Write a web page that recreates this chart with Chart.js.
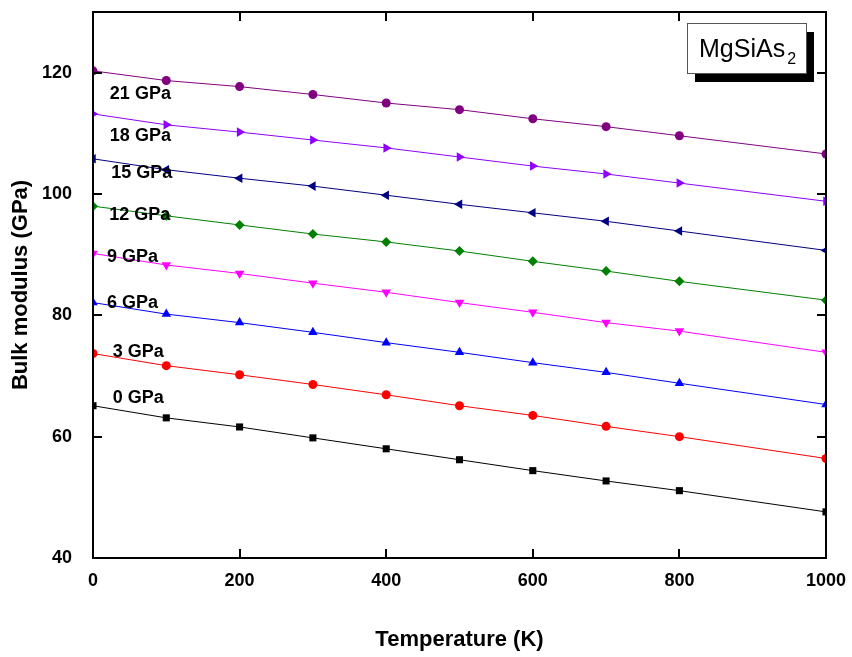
<!DOCTYPE html>
<html>
<head>
<meta charset="utf-8">
<script src="https://cdn.jsdelivr.net/npm/chart.js@4"></script>
<style>
  html, body { margin: 0; padding: 0; background: #fff; }
  #wrap { width: 852px; height: 657px; }
</style>
</head>
<body>
<div id="wrap"><canvas id="bulk"></canvas></div>
<script>
// temperature points (K) - no point at 900 in the original figure
const temps = [0, 100, 200, 300, 400, 500, 600, 700, 800, 1000];
const pressures = ['0 GPa', '3 GPa', '6 GPa', '9 GPa', '12 GPa', '15 GPa', '18 GPa', '21 GPa'];

// bulk modulus (GPa) per pressure
const b0  = [65.1, 63.1, 61.6, 59.8, 58.0, 56.2, 54.4, 52.7, 51.1, 47.6];
const b3  = [73.7, 71.7, 70.2, 68.6, 66.9, 65.1, 63.5, 61.7, 60.0, 56.4];
const b6  = [82.1, 80.2, 78.8, 77.2, 75.5, 73.9, 72.2, 70.6, 68.8, 65.3];
const b9  = [90.2, 88.3, 86.9, 85.3, 83.8, 82.1, 80.5, 78.8, 77.4, 73.9];
const b12 = [98.0, 96.4, 94.9, 93.4, 92.1, 90.6, 88.9, 87.3, 85.6, 82.5];
const b15 = [105.8, 104.0, 102.6, 101.3, 99.8, 98.3, 96.9, 95.5, 93.9, 90.7];
const b18 = [113.2, 111.4, 110.2, 108.9, 107.6, 106.1, 104.6, 103.3, 101.8, 98.8];
const b21 = [120.3, 118.7, 117.7, 116.4, 115.0, 113.9, 112.4, 111.1, 109.6, 106.6];

const xTicks = [0, 200, 400, 600, 800, 1000];
const yTicks = [40, 60, 80, 100, 120];

const FONT = 'Arial, "Liberation Sans", sans-serif';

// series look: color, point style, rotation, radius
const styles = [
  ['#000000', 'rect', 0, 5],
  ['#ff0000', 'circle', 0, 4.5],
  ['#0000ff', 'triangle', 0, 5.5],
  ['#ff00ff', 'triangle', 180, 5.5],
  ['#008000', 'rectRot', 0, 5],
  ['#000080', 'triangle', -90, 5.5],
  ['#8f00ff', 'triangle', 90, 5.5],
  ['#800080', 'circle', 0, 4.5]
];
const allSeries = [b0, b3, b6, b9, b12, b15, b18, b21];

// where the "x GPa" captions sit (data coords: K, GPa)
const captionAt = [
  [27, 66.3], [27, 73.9], [19, 82.1], [19, 89.6],
  [22, 96.5], [25, 103.5], [23, 109.6], [23, 116.5]
];

const datasets = allSeries.map((vals, i) => ({
  label: pressures[i],
  data: vals.map((v, j) => ({ x: temps[j], y: v })),
  borderColor: styles[i][0],
  backgroundColor: styles[i][0],
  borderWidth: 1,
  pointStyle: styles[i][1],
  rotation: styles[i][2],
  pointRadius: styles[i][3],
  pointBorderWidth: 0,
  tension: 0
}));

// kill the label overhang padding so the plot area sits where layout.padding says
const noOverhang = s => { s.paddingLeft = s.paddingRight = s.paddingTop = s.paddingBottom = 0; };

// frame with inward ticks on all four sides, captions and the MgSiAs2 box
const framePlugin = {
  id: 'frame',
  afterDatasetsDraw(chart) {
    const { ctx, chartArea: a, scales: { x, y } } = chart;
    ctx.save();

    // captions
    ctx.fillStyle = '#000';
    ctx.font = 'bold 18px ' + FONT;
    ctx.textAlign = 'left';
    ctx.textBaseline = 'middle';
    pressures.forEach((p, i) => {
      ctx.fillText(p, x.getPixelForValue(captionAt[i][0]), y.getPixelForValue(captionAt[i][1]));
    });

    // ticks
    ctx.strokeStyle = '#000';
    ctx.lineWidth = 2;
    const tl = 9;
    ctx.beginPath();
    xTicks.forEach(t => {
      const px = Math.round(x.getPixelForValue(t));
      ctx.moveTo(px, a.bottom); ctx.lineTo(px, a.bottom - tl);
      ctx.moveTo(px, a.top); ctx.lineTo(px, a.top + tl);
    });
    yTicks.forEach(t => {
      const py = Math.round(y.getPixelForValue(t));
      ctx.moveTo(a.left, py); ctx.lineTo(a.left + tl, py);
      ctx.moveTo(a.right, py); ctx.lineTo(a.right - tl, py);
    });
    ctx.stroke();

    // frame
    ctx.strokeRect(a.left, a.top, a.right - a.left, a.bottom - a.top);

    // label box with drop shadow
    const bw = 119, bh = 50;
    const bx = a.right - 139, by = a.top + 11;
    ctx.fillStyle = '#000';
    ctx.fillRect(bx + 8, by + 9, bw, bh);
    ctx.fillStyle = '#fff';
    ctx.fillRect(bx, by, bw, bh);
    ctx.strokeStyle = '#555';
    ctx.lineWidth = 1;
    ctx.strokeRect(bx + 0.5, by + 0.5, bw, bh);
    ctx.fillStyle = '#000';
    ctx.font = '25px ' + FONT;
    ctx.textAlign = 'left';
    ctx.textBaseline = 'alphabetic';
    ctx.fillText('MgSiAs', bx + 12, by + 34);
    const w = ctx.measureText('MgSiAs').width;
    ctx.font = '16px ' + FONT;
    ctx.fillText('2', bx + 14 + w, by + 41);

    ctx.restore();
  }
};

new Chart(document.getElementById('bulk'), {
  type: 'line',
  data: { datasets },
  options: {
    responsive: true,
    maintainAspectRatio: false,
    animation: false,
    layout: { padding: { top: 12, right: 26, left: 0, bottom: 0 } },
    plugins: {
      legend: { display: false },
      tooltip: { enabled: false }
    },
    scales: {
      x: {
        type: 'linear',
        min: 0, max: 1000,
        afterFit: s => { s.height = 99; noOverhang(s); },
        afterBuildTicks: s => { s.ticks = xTicks.map(v => ({ value: v })); },
        grid: { display: false },
        border: { display: false },
        ticks: { color: '#000', padding: 4, maxRotation: 0, callback: v => String(v), font: { family: FONT, size: 18, weight: 'bold' } },
        title: { display: true, text: 'Temperature (K)', color: '#000', padding: { bottom: 4 }, font: { family: FONT, size: 22, weight: 'bold' } }
      },
      y: {
        min: 40, max: 130,
        afterFit: s => { s.width = 93; noOverhang(s); },
        afterBuildTicks: s => { s.ticks = yTicks.map(v => ({ value: v })); },
        grid: { display: false },
        border: { display: false },
        ticks: { color: '#000', padding: 13, callback: v => String(v), font: { family: FONT, size: 18, weight: 'bold' } },
        title: { display: true, text: 'Bulk modulus (GPa)', color: '#000', padding: { top: 8 }, font: { family: FONT, size: 22, weight: 'bold' } }
      }
    }
  },
  plugins: [framePlugin]
});
</script>
</body>
</html>
